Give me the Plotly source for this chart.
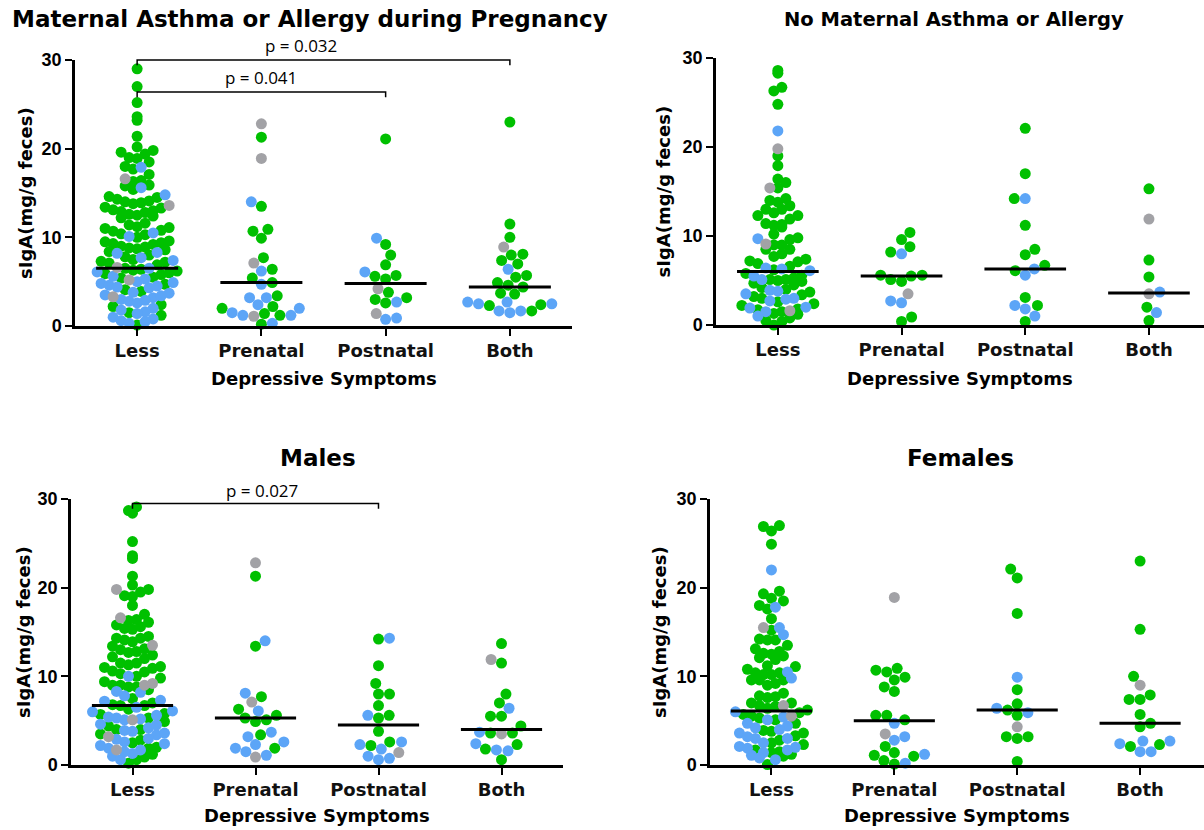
import plotly.graph_objects as go

# ---------------- data ----------------
categories = ["Less", "Prenatal", "Postnatal", "Both"]
y_ticks = [0, 10, 20, 30]
panel_titles = ["Maternal Asthma or Allergy during Pregnancy",
                "No Maternal Asthma or Allergy", "Males", "Females"]
x_title = "Depressive Symptoms"
y_title = "sIgA(mg/g feces)"

# colour codes: g = green, b = blue, x = grey
A_less_v = [29.0, 27.0, 25.2, 23.6, 23.2, 21.4, 20.2, 19.8, 19.6, 19.4, 19.0, 18.9, 18.5, 17.9, 17.7, 18.0, 17.1,
            16.6, 16.4, 16.3, 15.9, 15.8, 15.6, 15.4,
            14.8, 14.6, 14.5, 14.3, 14.1, 13.9, 13.6, 13.8, 14.0,
            13.4, 13.3, 13.0, 12.8, 12.6, 12.4, 12.2, 12.5, 12.9, 13.1,
            11.6, 11.4, 11.2, 11.0, 10.7, 10.5, 10.3, 10.1, 10.0, 10.4, 10.8, 11.1,
            9.6, 9.4, 9.2, 9.0, 8.8, 8.6, 8.4, 8.7, 8.9, 9.3, 9.5,
            8.3, 8.2, 7.7, 8.0, 7.8, 7.5, 7.3, 7.1, 6.9, 7.4, 7.2,
            6.6, 6.5, 6.4, 6.3, 6.1, 6.5, 6.0, 5.9, 6.2, 5.8,
            5.6, 5.5, 5.2, 5.0, 4.8, 4.6, 4.4, 4.3, 4.5, 4.9, 5.3, 5.4, 4.7,
            4.1, 3.9, 3.7, 3.5, 3.3, 3.2, 3.0, 2.8, 2.6, 2.9, 3.4, 3.8, 2.4,
            2.2, 2.0, 1.8, 1.6, 1.4, 1.2, 1.0, 0.8, 0.6, 0.5, 0.3, 0.1, 1.5]
A_less_c = list("ggggggggggggg" "bggg" "x" "gggg" "bg" "bgggggxgg" "gggggggggg" "gggggbgbgggg"
                "ggggggggggg" "bbbggggggbg" "xgggbbgggg" "bgxbbbbbbbbgg" "ggbbxbbbbbbbg" "gbbbbgbbbbbgg")
A_pre_v = [22.8, 21.3, 18.9, 14.0, 13.5, 10.9, 10.7, 9.9, 7.7, 7.1, 6.4, 6.2, 5.4, 4.7, 4.9, 3.2, 3.2, 3.4,
           2.4, 2.0, 2.2, 2.0, 1.4, 1.2, 1.1, 1.2, 1.2, 1.5, 0.2, 0.3]
A_pre_c = list("xgxbggggg" "xgbgbg" "bbg" "bbgg" "ggx" "bbb" "gb")
A_post_v = [21.1, 9.2, 9.9, 8.0, 6.9, 6.1, 5.7, 5.3, 5.6, 4.2, 3.2, 2.7, 2.6, 3.0, 3.8, 1.4, 0.75, 0.9]
A_post_c = list("ggbggbgggxgbgggxbb")
A_both_v = [23.0, 11.5, 10.0, 8.9, 8.1, 7.4, 8.0, 7.0, 6.4, 5.7, 5.5, 4.9, 4.6, 4.4, 3.7, 3.6,
            2.5, 2.3, 2.7, 2.7, 2.4, 2.5, 1.7, 1.5, 1.7, 1.7]
A_both_c = list("gggxggggbggggggg" "bgbbgb" "bbbg")
A_medians = [6.5, 4.9, 4.8, 4.4]

B_less_v = [28.6, 28.3, 26.7, 26.3, 24.8, 21.8, 19.8, 19.0, 17.9, 16.4, 16.0, 15.4, 15.4,
            14.2, 13.8, 14.0, 13.4, 13.0, 13.0, 12.6, 12.3, 12.3, 11.9, 11.4, 11.2, 11.3, 11.0, 10.2, 9.8, 9.6,
            9.7, 9.1, 9.0, 9.0, 8.5, 8.5, 8.0, 7.7, 7.4, 7.2, 7.1, 6.9, 6.6,
            6.3, 6.1, 6.4, 5.5, 5.8, 5.1, 5.0, 5.1, 5.1, 4.9, 4.5, 3.9, 3.8, 3.5, 3.2, 3.0, 3.4, 3.0, 2.9, 2.7,
            2.4, 2.0, 1.9, 1.8, 1.5, 1.7, 1.6, 1.5, 1.0, 1.2, 0.8, 0.5, 0.0, 0.4,
            5.3, 4.7, 4.2, 4.0, 3.7, 2.6, 2.2, 1.3, 5.6, 6.2]
B_less_c = list("gggggbxgggggx" "ggggggggggggggggg" "bx" "ggggggggggg"
                "bbbbggggbggbbbgggbbbgbbgggxbbggggg" "gggggggggg")
B_pre_v = [10.4, 9.6, 8.8, 8.2, 8.0, 5.6, 5.5, 5.6, 5.1, 4.9, 3.5, 2.7, 2.5, 0.4, 0.9]
B_pre_c = list("ggggbgggggxbbgg")
B_post_v = [22.1, 17.0, 14.2, 14.2, 11.2, 8.5, 7.9, 6.7, 6.3, 6.1, 5.6, 3.1, 2.2, 1.8, 2.2, 1.0, 0.4]
B_post_c = list("ggbgggggbgbgbbgbg")
B_both_v = [15.3, 11.9, 7.3, 5.4, 3.7, 3.5, 2.0, 1.4, 0.5]
B_both_c = list("gxggbxgbg")
B_medians = [6.0, 5.5, 6.3, 3.6]

C_less_v = [28.7, 28.4, 29.1, 25.2, 23.6, 23.3, 21.3, 20.3, 19.8, 19.8, 19.5, 19.1, 19.0, 18.0, 17.0, 16.6,
            16.3, 16.4, 16.1, 15.8, 15.6, 15.4, 15.3,
            14.3, 14.1, 13.9, 14.3, 14.5, 13.5,
            13.4, 13.0, 12.7, 12.4, 12.8, 13.1,
            11.5, 11.5, 11.3, 10.9, 10.5, 10.3, 10.6, 11.0, 11.1,
            10.0, 9.4, 9.0, 9.0, 9.2, 8.8, 8.8, 9.0,
            8.2, 7.8, 8.3, 8.5, 7.3, 7.0, 6.8, 6.7,
            6.7, 6.5, 6.1,
            5.1, 5.3, 5.4, 5.3, 5.2, 5.1, 4.9,
            4.0, 3.8, 4.2, 4.0, 3.9, 3.2,
            3.4, 3.0, 2.6, 2.4, 2.8,
            1.9, 1.7, 1.7, 1.9, 1.3,
            1.0, 0.6, 0.6, 0.2, 0.9,
            7.5, 7.2, 6.3, 6.0, 5.8, 5.6, 5.7, 4.6, 4.4, 4.5, 3.6, 3.5, 2.9, 2.2, 2.0, 1.5, 1.2, 2.5,
            12.0, 12.2, 9.8, 10.0]
C_less_c = list("ggggggggxggggggxggggggg" "gggggx" "gggggg" "ggggggggg" "bggxxggg" "bbbgbggg" "gbb"
                "xbbgbbg" "gbbgbx" "bbbbg" "gbxbb" "bgbgg" "gbgbgbgbgbbgbbgbgggggg")
C_pre_v = [22.8, 21.3, 13.4, 14.0, 7.7, 8.1, 7.1, 6.3, 6.1, 5.6, 4.9, 5.1, 5.3, 3.4, 3.2, 3.7, 2.6, 1.9,
           1.5, 0.9, 1.1, 1.9, 2.3]
C_pre_c = list("xggbgbxgbgggggbbbgbxbbb")
C_post_v = [14.3, 14.2, 11.2, 9.2, 8.0, 8.0, 6.7, 5.6, 5.3, 5.6, 3.8, 2.6, 2.3, 2.6, 1.8, 2.2, 1.4, 1.0, 0.6, 0.75]
C_post_c = list("bggggggggbggbbbgxbbb")
C_both_v = [13.7, 11.9, 11.5, 8.0, 7.0, 6.4, 5.5, 5.5, 4.4, 3.7, 3.6, 3.5, 3.6, 2.3, 1.7, 1.6, 1.8, 2.4, 0.6]
C_both_c = list("gxgggbgggbgxggbbgbg")
C_medians = [6.7, 5.3, 4.5, 4.0]

D_less_v = [26.9, 26.4, 27.0, 24.9, 22.0, 19.6, 19.3, 18.8, 18.5, 18.0, 17.8, 17.6, 16.5, 15.5, 15.5, 15.2,
            14.7, 14.1, 14.1, 14.2, 13.5, 13.1,
            12.6, 12.3, 11.9, 12.1, 12.5, 12.8,
            11.2, 11.1,
            10.8, 10.4, 10.2, 10.2, 10.4, 10.5,
            9.8, 9.6, 9.2, 9.0, 9.6, 9.6,
            8.1,
            7.7, 7.0, 6.7, 6.7, 6.6, 7.0, 7.6, 7.8,
            6.0, 6.2, 5.9,
            5.5, 5.1, 4.7, 4.2, 4.7, 5.1, 5.4, 5.5,
            3.6, 3.0, 3.3, 2.5, 3.8, 3.0, 3.2, 3.6,
            2.0, 1.7, 1.4, 1.1, 2.1, 2.5, 1.4, 1.7, 1.9,
            0.6, 0.05, 1.2, 1.0,
            6.4, 5.7, 5.3, 4.4, 4.0, 3.9, 2.8, 2.3, 1.5, 0.8]
D_less_c = list("ggggbgggggbggxbgbggggg" "gggggg" "gg" "gggggb" "bggggg" "g" "gggxgggg" "bgg"
                "gbbbggbx" "bbgggbbg" "bggbbbbbb" "bggg" "gggbbggggb")
D_pre_v = [18.9, 10.9, 10.5, 10.7, 9.9, 9.6, 8.8, 8.3, 5.6, 5.1, 5.6, 4.7, 3.5, 2.8, 3.2, 2.1, 1.4, 1.1,
           0.5, 0.1, 0.2, 1.0, 1.2]
D_pre_c = list("xggggggggggbxbbgggggbgb")
D_post_v = [22.1, 21.1, 17.1, 9.9, 8.5, 6.9, 6.2, 6.4, 5.9, 5.6, 4.3, 3.2, 3.0, 3.2, 0.4]
D_post_c = list("gggbgggbbgxgggg")
D_both_v = [23.0, 15.3, 10.0, 9.0, 7.9, 7.4, 7.4, 5.7, 4.7, 4.3, 2.7, 2.4, 2.1, 1.5, 1.5, 2.3, 2.7]
D_both_c = list("gggxggggggbbgbbgb")
D_medians = [6.1, 5.0, 6.2, 4.7]

# significance brackets
bracket_panel = [0, 0, 2]
bracket_from = ["Less", "Less", "Less"]
bracket_to = ["Both", "Postnatal", "Postnatal"]
bracket_y = [30.0, 26.4, 29.5]
bracket_label = ["p = 0.032", "p = 0.041", "p = 0.027"]
bracket_label_x = [1.32, 1.0, 1.05]
bracket_label_y = [31.6, 28.0, 31.0]

# ---------------- styling / layout ----------------
W, H = 1204, 830
COLORS = {"g": "rgb(0,192,0)", "b": "rgb(92,165,247)", "x": "rgb(162,162,166)"}
FONT = "Liberation Sans, Arial, sans-serif"
WIDE = "DejaVu Sans, Verdana, sans-serif"
MARKER_PX = 11
ROW_STEP_PX = 8.0      # horizontal step inside a row (dense groups)
ROW_HEIGHT_PX = 11.0   # row height (dense groups)
SPACING_SPARSE_PX = 11.0

panels = [
    dict(groups=[(A_less_v, A_less_c), (A_pre_v, A_pre_c), (A_post_v, A_post_c), (A_both_v, A_both_c)],
         medians=A_medians, xpx=(75, 572), ypx=(60, 326), xr=[-0.5, 3.5],
         title_px=(310, 19), title_size=23, ytitle_px=25, xtitle_py=378),
    dict(groups=[(B_less_v, B_less_c), (B_pre_v, B_pre_c), (B_post_v, B_post_c), (B_both_v, B_both_c)],
         medians=B_medians, xpx=(716, 1204), ypx=(58, 325), xr=[-0.5, 3.445],
         title_px=(954, 19), title_size=19.5, ytitle_px=663, xtitle_py=378),
    dict(groups=[(C_less_v, C_less_c), (C_pre_v, C_pre_c), (C_post_v, C_post_c), (C_both_v, C_both_c)],
         medians=C_medians, xpx=(71, 563), ypx=(499, 765), xr=[-0.5, 3.5],
         title_px=(318, 458), title_size=23, ytitle_px=23, xtitle_py=815),
    dict(groups=[(D_less_v, D_less_c), (D_pre_v, D_pre_c), (D_post_v, D_post_c), (D_both_v, D_both_c)],
         medians=D_medians, xpx=(710, 1204), ypx=(499, 765), xr=[-0.5, 3.52],
         title_px=(960, 458), title_size=23, ytitle_px=659, xtitle_py=815),
]


def row_offsets(vals, ppu_x, ppu_y):
    """GraphPad-like rows: bin by value, spread each row from the centre outwards."""
    bin_h = ROW_HEIGHT_PX / ppu_y
    order = sorted(range(len(vals)), key=lambda i: vals[i])
    bins = {}
    for i in order:
        bins.setdefault(int(vals[i] // bin_h), []).append(i)
    off = [0.0] * len(vals)
    for members in bins.values():
        n = len(members)
        slots = sorted([k - (n - 1) / 2 for k in range(n)], key=lambda s: (abs(s), s))
        for i, s in zip(members, slots):
            off[i] = s * ROW_STEP_PX / ppu_x
    return off


def swarm_offsets(vals, ppu_x, ppu_y):
    """Collision-based beeswarm: each point (low to high) goes to the free x closest to the centre."""
    spacing = SPACING_SPARSE_PX
    order = sorted(range(len(vals)), key=lambda i: vals[i])
    placed = []
    off = [0.0] * len(vals)
    side = 1
    for i in order:
        y = vals[i] * ppu_y
        intervals = []
        for px, py in placed:
            dy = abs(py - y)
            if dy < spacing:
                dx = (spacing * spacing - dy * dy) ** 0.5
                intervals.append((px - dx, px + dx))
        cands = [0.0] + [a for a, _ in intervals] + [b for _, b in intervals]
        cands.sort(key=lambda c: (round(abs(c), 6), -side * c))
        x = 0.0
        for c in cands:
            if all(not (a + 1e-6 < c < b - 1e-6) for a, b in intervals):
                x = c
                break
        if x != 0.0:
            side = -side
        placed.append((x, y))
        off[i] = x / ppu_x
    return off


fig = go.Figure()
annotations = []
shapes = []
layout_axes = {}

for p, pan in enumerate(panels):
    k = "" if p == 0 else str(p + 1)
    xa, ya = "x" + k, "y" + k
    x0, x1 = pan["xpx"]
    y0, y1 = pan["ypx"]
    ppu_x = (x1 - x0) / (pan["xr"][1] - pan["xr"][0])
    ppu_y = (y1 - y0) / 30.0

    xs = {c: [] for c in "gbx"}
    ys = {c: [] for c in "gbx"}
    for gi, (vals, cols) in enumerate(pan["groups"]):
        if len(vals) > 50:
            offs = row_offsets(vals, ppu_x, ppu_y)
        else:
            offs = swarm_offsets(vals, ppu_x, ppu_y)
        for v, c, o in zip(vals, cols, offs):
            xs[c].append(gi + o)
            ys[c].append(v)
    for c in "gbx":
        fig.add_trace(go.Scatter(x=xs[c], y=ys[c], mode="markers", xaxis=xa, yaxis=ya,
                                 marker=dict(size=MARKER_PX, color=COLORS[c], line=dict(width=0)),
                                 cliponaxis=False, showlegend=False, hoverinfo="y"))
    for gi, med in enumerate(pan["medians"]):
        fig.add_trace(go.Scatter(x=[gi - 0.33, gi + 0.33], y=[med, med], mode="lines",
                                 xaxis=xa, yaxis=ya, line=dict(color="black", width=3),
                                 showlegend=False, hoverinfo="skip"))

    layout_axes["xaxis" + k] = dict(
        domain=[x0 / W, x1 / W], anchor=ya, range=pan["xr"], tickmode="array",
        tickvals=list(range(len(categories))), ticktext=categories, automargin=False,
        showline=True, linecolor="black", linewidth=2.5, ticks="outside", ticklen=7,
        tickwidth=2, tickcolor="black", showgrid=False, zeroline=False,
        tickfont=dict(family=WIDE, size=18, color="#111111", weight="bold"), fixedrange=True)
    layout_axes["yaxis" + k] = dict(
        domain=[1 - y1 / H, 1 - y0 / H], anchor=xa, range=[0, 30], tickmode="array",
        tickvals=y_ticks, showline=True, linecolor="black", linewidth=2.5, ticks="outside",
        ticklen=7, tickwidth=2, tickcolor="black", showgrid=False, zeroline=False, automargin=False,
        tickfont=dict(family=FONT, size=18, color="black", weight="bold"), fixedrange=True)

    annotations.append(dict(text=panel_titles[p], xref="paper", yref="paper",
                            x=pan["title_px"][0] / W, y=1 - pan["title_px"][1] / H,
                            xanchor="center", yanchor="middle", showarrow=False,
                            font=dict(family=WIDE, size=pan["title_size"], color="black", weight="bold")))
    annotations.append(dict(text=y_title, xref="paper", yref=ya + " domain",
                            x=pan["ytitle_px"] / W, y=0.5, textangle=-90,
                            xanchor="center", yanchor="middle", showarrow=False,
                            font=dict(family=WIDE, size=18, color="black", weight="bold")))
    annotations.append(dict(text=x_title, xref=xa + " domain", yref="paper",
                            x=0.5, y=1 - pan["xtitle_py"] / H,
                            xanchor="center", yanchor="middle", showarrow=False,
                            font=dict(family=WIDE, size=18, color="black", weight="bold")))

for bp, bf, bt, by, bl, lx, ly in zip(bracket_panel, bracket_from, bracket_to, bracket_y,
                                      bracket_label, bracket_label_x, bracket_label_y):
    k = "" if bp == 0 else str(bp + 1)
    xa, ya = "x" + k, "y" + k
    xa0, xa1 = categories.index(bf), categories.index(bt)
    top = by / 30.0
    drop = 0.6 / 30.0
    shapes.append(dict(type="path", xref=xa, yref=ya + " domain",
                       path=f"M {xa0},{top - drop} L {xa0},{top} L {xa1},{top} L {xa1},{top - drop}",
                       line=dict(color="black", width=1.5)))
    annotations.append(dict(text=bl, xref=xa, yref=ya + " domain", x=lx, y=ly / 30.0,
                            xanchor="center", yanchor="middle", showarrow=False,
                            font=dict(family="Open Sans, sans-serif", size=17, color="black")))

fig.update_layout(width=W, height=H, margin=dict(l=0, r=0, t=0, b=0, autoexpand=False),
                  paper_bgcolor="white", plot_bgcolor="white", showlegend=False,
                  annotations=annotations, shapes=shapes, **layout_axes)

fig.write_html("out.html")
